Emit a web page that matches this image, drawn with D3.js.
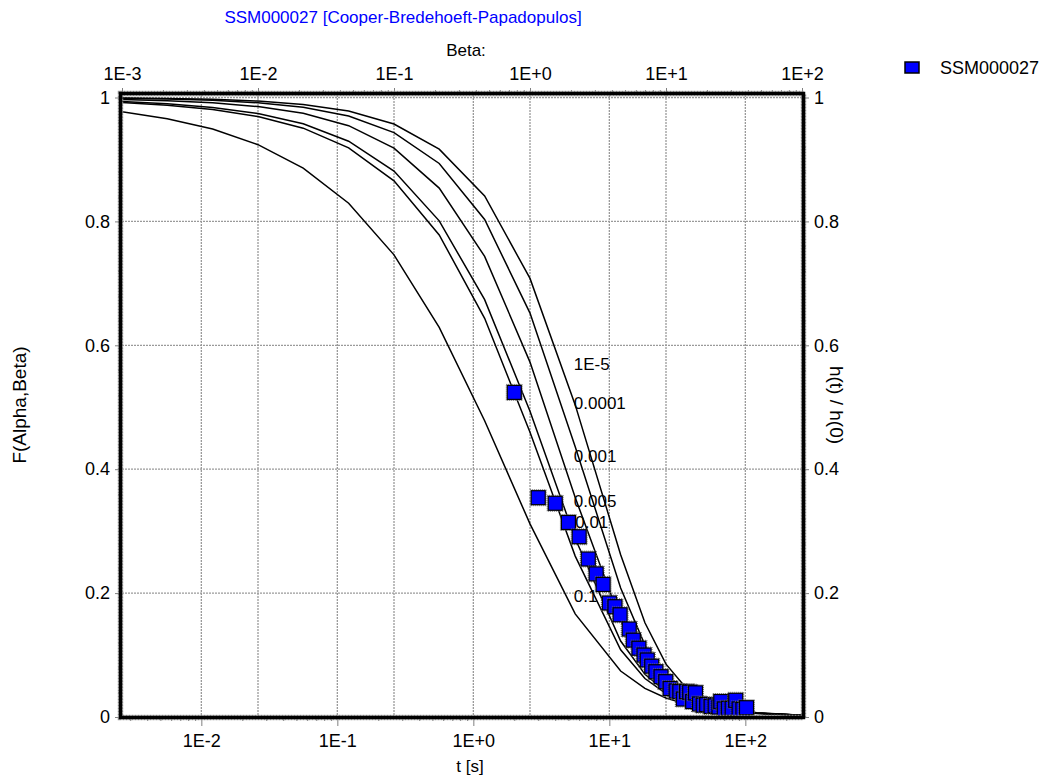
<!DOCTYPE html>
<html><head><meta charset="utf-8">
<script src="https://cdn.jsdelivr.net/npm/d3@7"></script>
<style>
html,body{margin:0;padding:0;background:#fff;}
text{font-family:"Liberation Sans",Arial,sans-serif;}
</style></head>
<body><svg id="c" width="1046" height="780"></svg>
<script>
// ---- data ----
const chartTitle = "SSM000027 [Cooper-Bredehoeft-Papadopulos]";
const seriesName = "SSM000027";
const betaTicks = [1e-3, 1e-2, 1e-1, 1, 10, 100];
const betaTickLabels = ["1E-3", "1E-2", "1E-1", "1E+0", "1E+1", "1E+2"];
const tTicks = [1e-2, 1e-1, 1, 10, 100];
const tTickLabels = ["1E-2", "1E-1", "1E+0", "1E+1", "1E+2"];
const yTicks = [0, 0.2, 0.4, 0.6, 0.8, 1];
const yTickLabels = ["0", "0.2", "0.4", "0.6", "0.8", "1"];
const betaDomain = [1e-3, 1e2];
const tDomain = [0.00261, 261];

// type curves F(alpha,beta)
const betaPts = [0.001, 0.00215, 0.00464, 0.01, 0.0215, 0.0464, 0.1, 0.215, 0.464, 1, 2.15, 4.64, 7, 10, 14, 21.5, 46.4, 100];
const alphaLabels = ["1E-5", "0.0001", "0.001", "0.005", "0.01", "0.1"];
const fAlpha1e5 = [0.9992, 0.9985, 0.9970, 0.9942, 0.9888, 0.9781, 0.9572, 0.9167, 0.8410, 0.7080, 0.5038, 0.2620, 0.1521, 0.08527, 0.04719, 0.02092, 0.0069, 0.0030];
const fAlpha1e4 = [0.9985, 0.9974, 0.9954, 0.9915, 0.9841, 0.9701, 0.9434, 0.8935, 0.8031, 0.6520, 0.4364, 0.2082, 0.1161, 0.06403, 0.03587, 0.01739, 0.0064, 0.0029];
const fAlpha1e3 = [0.9969, 0.9949, 0.9914, 0.9853, 0.9744, 0.9545, 0.9183, 0.8538, 0.7436, 0.5729, 0.3543, 0.1554, 0.08519, 0.04821, 0.02844, 0.01545, 0.0062, 0.0029];
const fAlpha5e3 = [0.9935, 0.9898, 0.9839, 0.9741, 0.9577, 0.9294, 0.8813, 0.8009, 0.6736, 0.4937, 0.2881, 0.1226, 0.0690, 0.0409, 0.0254, 0.0145, 0.0061, 0.0028];
const fAlpha1e2 = [0.9920, 0.9876, 0.9807, 0.9693, 0.9505, 0.9187, 0.8655, 0.7782, 0.6436, 0.4598, 0.2597, 0.1086, 0.06204, 0.03780, 0.02414, 0.01414, 0.0060, 0.0028];
const fAlpha1e1 = [0.9771, 0.9658, 0.9490, 0.9238, 0.8860, 0.8293, 0.7460, 0.6289, 0.4782, 0.3117, 0.1665, 0.07415, 0.04625, 0.03065, 0.02092, 0.01297, 0.0058, 0.0028];
// label anchor positions (beta, F) for each curve label
const labelBeta = [2.1, 2.1, 2.1, 2.1, 2.15, 2.1];
const labelF = [0.570, 0.507, 0.421, 0.348, 0.315, 0.195];

// observations h(t)/h(0)
const obsTime = [2,3,4,5,6,7,8,9,10,11,12,14,15,16.5,18,19,20.5,22,24,26,28,31,33,35,37,39,41,43,46,49,52,56,60,64,66,70,75,80,85,90,96,102];
const obsValue = [0.524,0.354,0.345,0.314,0.291,0.255,0.231,0.214,0.184,0.178,0.165,0.142,0.124,0.111,0.100,0.092,0.082,0.073,0.065,0.057,0.046,0.042,0.041,0.029,0.041,0.040,0.025,0.039,0.021,0.019,0.020,0.017,0.018,0.016,0.025,0.013,0.014,0.014,0.027,0.013,0.012,0.015];

// ---- drawing ----
const svg = d3.select("#c");
const L = 122, R = 802, T = 95, B = 716;
const xTop = d3.scaleLog().domain(betaDomain).range([L, R]);
const xBot = d3.scaleLog().domain(tDomain).range([L, R]);
const y = d3.scaleLinear().domain([0, 1]).range([717, 97.5]);

const gridColor = "#9a9a9a", tickColor = "#808080";
const FS = 17, FT = 18;

// grid
const grid = svg.append("g");
betaTicks.forEach(b => grid.append("line").attr("x1", xTop(b)).attr("x2", xTop(b)).attr("y1", T).attr("y2", B));
tTicks.forEach(t => grid.append("line").attr("x1", xBot(t)).attr("x2", xBot(t)).attr("y1", T).attr("y2", B));
yTicks.forEach(v => grid.append("line").attr("x1", L).attr("x2", R).attr("y1", y(v)).attr("y2", y(v)));
grid.selectAll("line").attr("stroke", gridColor).attr("stroke-width", 1.3).attr("stroke-dasharray", "2,1");

// minor tick values
function minorLog(dom) {
  const out = [];
  const lo = Math.floor(Math.log10(dom[0])), hi = Math.ceil(Math.log10(dom[1]));
  for (let e = lo; e < hi; e++) for (let m = 2; m <= 9; m++) {
    const v = m * Math.pow(10, e);
    if (v >= dom[0] && v <= dom[1]) out.push(v);
  }
  return out;
}
const yMinor = d3.range(0, 1.0001, 0.04);

function styleAxis(g) {
  g.select(".domain").remove();
  g.selectAll("line").attr("stroke", tickColor);
  g.selectAll("text").attr("font-size", FT).attr("fill", "#000").attr("font-family", "Liberation Sans, Arial, sans-serif");
}

// bottom axis
svg.append("g").attr("transform", `translate(0,${B})`)
  .call(d3.axisBottom(xBot).tickValues(minorLog(tDomain)).tickSize(5).tickFormat(""))
  .call(styleAxis);
svg.append("g").attr("transform", `translate(0,${B})`)
  .call(d3.axisBottom(xBot).tickValues(tTicks).tickSize(10).tickPadding(8).tickFormat((d, i) => tTickLabels[i]))
  .call(styleAxis);
// top axis
svg.append("g").attr("transform", `translate(0,${T})`)
  .call(d3.axisTop(xTop).tickValues(minorLog(betaDomain)).tickSize(5).tickFormat(""))
  .call(styleAxis);
svg.append("g").attr("transform", `translate(0,${T})`)
  .call(d3.axisTop(xTop).tickValues(betaTicks).tickSize(7).tickPadding(8).tickFormat((d, i) => betaTickLabels[i]))
  .call(styleAxis);
// left axis
svg.append("g").attr("transform", `translate(${L},0)`)
  .call(d3.axisLeft(y).tickValues(yMinor).tickSize(4).tickFormat(""))
  .call(styleAxis);
svg.append("g").attr("transform", `translate(${L},0)`)
  .call(d3.axisLeft(y).tickValues(yTicks).tickSize(7).tickPadding(5).tickFormat((d, i) => yTickLabels[i]))
  .call(styleAxis);
// right axis
svg.append("g").attr("transform", `translate(${R},0)`)
  .call(d3.axisRight(y).tickValues(yMinor).tickSize(4).tickFormat(""))
  .call(styleAxis);
svg.append("g").attr("transform", `translate(${R},0)`)
  .call(d3.axisRight(y).tickValues(yTicks).tickSize(7).tickPadding(5).tickFormat((d, i) => yTickLabels[i]))
  .call(styleAxis);

// clip
svg.append("clipPath").attr("id", "clip").append("rect").attr("x", L).attr("y", T).attr("width", R - L).attr("height", B - T);

// curves
const curves = [fAlpha1e5, fAlpha1e4, fAlpha1e3, fAlpha5e3, fAlpha1e2, fAlpha1e1];
const line = d3.line().x(d => xTop(d[0])).y(d => y(d[1]));
const cg = svg.append("g").attr("clip-path", "url(#clip)");
curves.forEach(vals => {
  cg.append("path").attr("d", line(betaPts.map((b, i) => [b, vals[i]])))
    .attr("fill", "none").attr("stroke", "#000").attr("stroke-width", 1.5);
});

// observations
const mg = svg.append("g");
obsTime.forEach((t, i) => {
  const cx = xBot(t), cy = y(obsValue[i]);
  mg.append("rect").attr("x", cx - 8).attr("y", cy - 8).attr("width", 16).attr("height", 16)
    .attr("fill", "none").attr("stroke", "#666").attr("stroke-width", 1).attr("stroke-dasharray", "1,1");
  mg.append("rect").attr("x", cx - 7).attr("y", cy - 7).attr("width", 14).attr("height", 14)
    .attr("fill", "#0000ff").attr("stroke", "#000").attr("stroke-width", 1.2);
});

// curve labels
alphaLabels.forEach((lab, i) => {
  svg.append("text").attr("x", xTop(labelBeta[i])).attr("y", y(labelF[i]))
    .attr("dy", "0.35em").attr("font-size", FS).text(lab);
});

// frame
svg.append("rect").attr("x", L - 1.5).attr("y", T - 1.5).attr("width", R - L + 3).attr("height", B - T + 3)
  .attr("fill", "none").attr("stroke", "#9a9a9a").attr("stroke-width", 5.5).attr("stroke-dasharray", "2,1");
svg.append("rect").attr("x", L - 1.5).attr("y", T - 1.5).attr("width", R - L + 3).attr("height", B - T + 3)
  .attr("fill", "none").attr("stroke", "#000").attr("stroke-width", 3.5);

// titles
svg.append("text").attr("x", 403).attr("y", 23).attr("text-anchor", "middle").attr("font-size", FS).attr("fill", "#0000ff").text(chartTitle);
svg.append("text").attr("x", 466).attr("y", 56).attr("text-anchor", "middle").attr("font-size", FS).text("Beta:");
svg.append("text").attr("x", 470).attr("y", 772).attr("text-anchor", "middle").attr("font-size", FS).text("t [s]");
svg.append("text").attr("transform", "translate(26,405) rotate(-90)").attr("text-anchor", "middle").attr("font-size", 19).text("F(Alpha,Beta)");
svg.append("text").attr("transform", "translate(830,405) rotate(90)").attr("text-anchor", "middle").attr("font-size", 19).text("h(t) / h(0)");

// legend
svg.append("rect").attr("x", 905).attr("y", 62).attr("width", 14).attr("height", 11).attr("fill", "#0000ff").attr("stroke", "#000").attr("stroke-width", 1.5);
svg.append("text").attr("x", 940).attr("y", 68).attr("dy", "0.35em").attr("font-size", FT).text(seriesName);
</script></body></html>
